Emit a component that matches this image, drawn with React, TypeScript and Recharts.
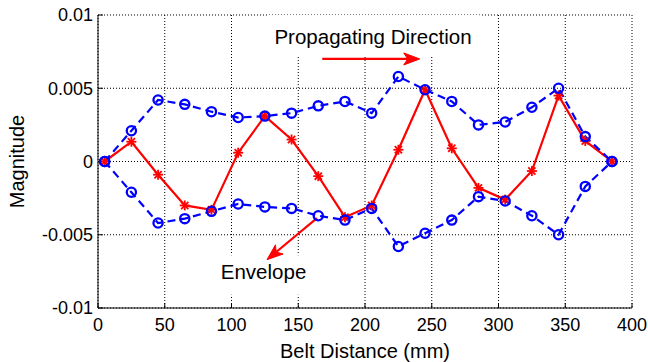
import React from 'react';
import {
  LineChart,
  Line,
  XAxis,
  YAxis,
  CartesianGrid,
  ReferenceArea,
  ReferenceLine,
  ReferenceDot
} from 'recharts';

// belt positions (mm)
const distance = [5, 25, 45, 65, 85, 105, 125, 145, 165, 185, 205, 225, 245, 265, 285, 305, 325, 345, 365, 385];

// upper / lower envelope and the travelling wave
const upperEnvelope = [0, 0.0021, 0.0042, 0.0039, 0.0034, 0.003, 0.0031, 0.0033, 0.0038, 0.0041, 0.0033, 0.0058, 0.0049, 0.0041, 0.0025, 0.0027, 0.0037, 0.005, 0.0017, 0];
const lowerEnvelope = [0, -0.0021, -0.0042, -0.0039, -0.0034, -0.0029, -0.0031, -0.0032, -0.0037, -0.004, -0.0032, -0.0058, -0.0049, -0.004, -0.0024, -0.0027, -0.0037, -0.005, -0.0017, 0];
const wave = [0, 0.00135, -0.0009, -0.003, -0.0033, 0.0006, 0.0031, 0.0015, -0.001, -0.0038, -0.003, 0.0008, 0.0049, 0.0009, -0.0018, -0.0026, -0.00065, 0.0045, 0.0014, 0];

const xTicks = [0, 50, 100, 150, 200, 250, 300, 350, 400];
const yTicks = [-0.01, -0.005, 0, 0.005, 0.01];

const data = distance.map((d, i) => ({
  x: d,
  upper: upperEnvelope[i],
  lower: lowerEnvelope[i],
  wave: wave[i]
}));

const FONT = '"Liberation Sans", Arial, Helvetica, sans-serif';
const BLUE = '#0000ff';
const RED = '#ff0000';
const INK = '#000';

const Asterisk = (props: any) => {
  const { cx, cy, index } = props;
  if (cx == null || cy == null) return <g key={index} />;
  const s = 5;
  const d = 3.6;
  return (
    <g key={`ast-${index}`} stroke={RED} strokeWidth={1.8}>
      <line x1={cx - s} y1={cy} x2={cx + s} y2={cy} />
      <line x1={cx} y1={cy - s} x2={cx} y2={cy + s} />
      <line x1={cx - d} y1={cy - d} x2={cx + d} y2={cy + d} />
      <line x1={cx - d} y1={cy + d} x2={cx + d} y2={cy - d} />
    </g>
  );
};

const Arrow = (props: any) => {
  const { x1, y1, x2, y2 } = props;
  if ([x1, y1, x2, y2].some((v) => v == null || isNaN(v))) return <g />;
  const ang = Math.atan2(y2 - y1, x2 - x1);
  const len = 16;
  const half = 6;
  const bx = x2 - len * Math.cos(ang);
  const by = y2 - len * Math.sin(ang);
  const nx = -Math.sin(ang) * half;
  const ny = Math.cos(ang) * half;
  const notch = 4;
  const mx = bx + notch * Math.cos(ang);
  const my = by + notch * Math.sin(ang);
  return (
    <g>
      <line x1={x1} y1={y1} x2={mx} y2={my} stroke={RED} strokeWidth={2.2} />
      <polygon points={`${x2},${y2} ${bx + nx},${by + ny} ${mx},${my} ${bx - nx},${by - ny}`} fill={RED} stroke={RED} strokeWidth={1} />
    </g>
  );
};

const Label = (text: string) => (props: any) => (
  <text
    x={props.cx}
    y={props.cy}
    textAnchor="middle"
    dominantBaseline="central"
    fontFamily={FONT}
    fontSize={20.5}
    fill={INK}
  >
    {text}
  </text>
);

export default function App() {
  return (
    <div style={{ position: 'absolute', left: 0, top: 0, width: 648, height: 362, background: '#fff' }}>
      <LineChart
        width={648}
        height={362}
        data={data}
        margin={{ top: 15, right: 16, bottom: 0, left: 0 }}
      >
        <CartesianGrid stroke="#000" strokeDasharray="1 2" />
        <ReferenceArea x1={127} x2={286} y1={0.0072} y2={0.01} fill="#fff" fillOpacity={1} stroke="none" />
        <ReferenceArea x1={88} x2={159} y1={-0.0091} y2={-0.0064} fill="#fff" fillOpacity={1} stroke="none" />
        <XAxis
          dataKey="x"
          type="number"
          domain={[0, 400]}
          ticks={xTicks}
          height={54}
          stroke="#000"
          tickSize={-5}
          tickMargin={15}
          tick={{ fill: INK, fontSize: 18, fontFamily: FONT }}
          label={{ value: 'Belt Distance (mm)', position: 'insideBottom', offset: 4, fill: INK, fontSize: 20, fontFamily: FONT }}
        />
        <XAxis xAxisId="top" orientation="top" dataKey="x" type="number" domain={[0, 400]} ticks={xTicks} height={0} stroke="#000" tickSize={-5} tick={false} />
        <YAxis
          type="number"
          domain={[-0.01, 0.01]}
          ticks={yTicks}
          width={98}
          stroke="#000"
          tickSize={-5}
          tickMargin={10}
          tick={{ fill: INK, fontSize: 18, fontFamily: FONT }}
          label={{ value: 'Magnitude', angle: -90, position: 'insideLeft', offset: 17, fill: INK, fontSize: 20, fontFamily: FONT, style: { textAnchor: 'middle' } }}
        />
        <YAxis yAxisId="right" orientation="right" type="number" domain={[-0.01, 0.01]} ticks={yTicks} width={0} stroke="#000" tickSize={-5} tick={false} />
        <Line
          dataKey="wave"
          stroke={RED}
          strokeWidth={2.2}
          dot={<Asterisk />}
          isAnimationActive={false}
        />
        <Line
          dataKey="upper"
          stroke={BLUE}
          strokeWidth={2.2}
          strokeDasharray="8 5"
          dot={{ r: 4.6, stroke: BLUE, strokeWidth: 2.3, fill: 'none', strokeDasharray: 'none' }}
          isAnimationActive={false}
        />
        <Line
          dataKey="lower"
          stroke={BLUE}
          strokeWidth={2.2}
          strokeDasharray="8 5"
          dot={{ r: 4.6, stroke: BLUE, strokeWidth: 2.3, fill: 'none', strokeDasharray: 'none' }}
          isAnimationActive={false}
        />
        <ReferenceLine segment={[{ x: 168, y: 0.007 }, { x: 241, y: 0.007 }]} shape={<Arrow />} />
        <ReferenceLine segment={[{ x: 164, y: -0.00386 }, { x: 126.6, y: -0.0067 }]} shape={<Arrow />} />
        <ReferenceDot x={206} y={0.0085} r={0} shape={Label('Propagating Direction')} />
        <ReferenceDot x={124} y={-0.00754} r={0} shape={Label('Envelope')} />
      </LineChart>
    </div>
  );
}
